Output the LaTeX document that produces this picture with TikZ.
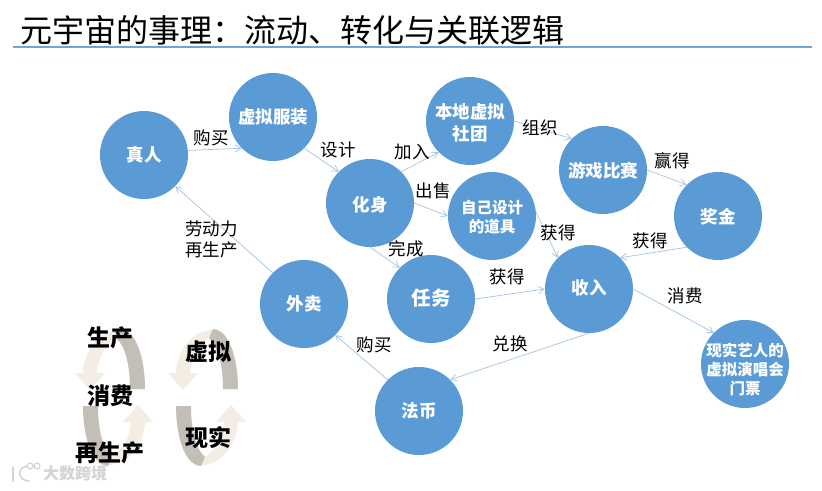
\documentclass[tikz,border=0pt]{standalone}
\usepackage{fontspec}
\setmainfont{Noto Sans CJK SC}
\usetikzlibrary{arrows.meta}
\definecolor{nodeblue}{HTML}{5B9BD5}
\definecolor{rulecol}{HTML}{6FA5DA}
\definecolor{linkblue}{HTML}{A3C4E4}
\definecolor{bandgray}{HTML}{C4BFB6}
\definecolor{bandcream}{HTML}{F4EDE3}
\definecolor{wmgray}{HTML}{D4D4D4}
\newcommand{\fs}[2]{\fontsize{#1}{#2}\selectfont}
\newcommand{\tx}[2]{\raisebox{\dimexpr-#1pt-6.5pt\relax}[0pt][0pt]{\makebox[0pt]{\begin{tabular}{@{}c@{}}#2\end{tabular}}}}
\newcommand{\halfcycle}{%
  \fill[bandcream] (120,330) .. controls (100,330) and (84,350) .. (83,373) -- (75,373) -- (90,390) -- (105,373) -- (97,373) .. controls (98,358) and (105,345) .. (116,338) -- cycle;
  \fill[bandgray] (120,329) .. controls (137,330) and (145,360) .. (145,389) -- (130,389) .. controls (130,365) and (125,345) .. (116,338) -- cycle;
}
\newcommand{\fullcycle}{%
  \halfcycle
  \begin{scope}[rotate around={180:(114,397.5)}]\halfcycle\end{scope}
}
\tikzset{
  bub/.style={circle,fill=nodeblue,text=white,minimum size=88pt,inner sep=0pt,font=\fs{17.5}{22}\bfseries},
  link/.style={draw=linkblue,line width=0.7pt,-{Straight Barb[length=6pt,width=7pt]}},
  lab/.style={text=black,inner sep=0pt,font=\fs{17.5}{21}},
  cyc/.style={text=black,inner sep=0pt,font=\fs{23}{26}\bfseries}
}
\begin{document}
\begin{tikzpicture}[x=1pt,y=-1pt]
\useasboundingbox (0,0) rectangle (822,490);
\fill[white] (0,0) rectangle (822,490);
% title
\node[inner sep=0pt,anchor=west,font=\fs{32}{36}] (title) at (20,30) {元宇宙的事理：流动、转化与关联逻辑};
\coordinate (ruleL) at (13,47); \coordinate (ruleR) at (812,47);
\draw[rulecol,line width=1.4pt] (ruleL) -- (ruleR);
% nodes
\node[bub] (zr) at (144,155) {\tx{0}{真人}};
\node[bub] (xnfz) at (273,117) {\tx{0}{虚拟服装}};
\node[bub] (hs) at (370,203) {\tx{2}{化身}};
\node[bub] (bd) at (470,121) {\tx{2}{本地虚拟\\社团}};
\node[bub] (yx) at (603,170) {\tx{1}{游戏比赛}};
\node[bub,font=\fs{15.5}{19}\bfseries] (dj) at (492,216) {\tx{0.5}{自己设计\\的道具}};
\node[bub] (jj) at (718,216) {\tx{1}{奖金}};
\node[bub] (sr) at (589,289) {\tx{-1}{收入}};
\node[bub,font=\fs{19.5}{22}\bfseries] (rw) at (431,299) {\tx{0}{任务}};
\node[bub] (wm) at (304,304) {\tx{0}{外卖}};
\node[bub] (fb) at (419,411) {\tx{0}{法币}};
\node[bub,font=\fs{15.5}{19}\bfseries] (yr) at (745,364) {\tx{5}{现实艺人的\\虚拟演唱会\\门票}};
% connectors
\draw[link] (zr.6) -- (xnfz.225);
\draw[link] (xnfz.-45) -- (hs.135);
\draw[link] (hs.45) -- (bd.225);
\draw[link] (hs.0) -- (dj.180);
\draw[link] (hs.-90) -- (rw.135);
\draw[link] (wm.135) -- (zr.-45);
\draw[link] (bd.0) -- (yx.135);
\draw[link] (yx.0) -- (jj.135);
\draw[link] (jj.225) -- (sr.45);
\draw[link] (dj.5) -- (sr.135);
\draw[link] (rw.0) -- (sr.180);
\draw[link] (sr.0) -- (yr.135);
\draw[link] (sr.-90) -- (fb.45);
\draw[link] (fb.135) -- (wm.-45);
% labels
\node[lab] (l1) at (211,138) {购买};
\node[lab] (l2) at (338,150) {设计};
\node[lab] (l3) at (412,152) {加入};
\node[lab] (l4) at (433,191) {出售};
\node[lab] (l5) at (406,249) {完成};
\node[lab] (l6) at (540,128) {组织};
\node[lab] (l7) at (672,161) {赢得};
\node[lab] (l8) at (558,233) {获得};
\node[lab] (l9) at (650,241) {获得};
\node[lab] (l10) at (507,277) {获得};
\node[lab] (l11) at (685,296) {消费};
\node[lab] (l12) at (510,344) {兑换};
\node[lab] (l13) at (374,345) {购买};
\node[lab,align=left,anchor=west] (l14) at (185,239) {劳动力\\再生产};
% cycles
\fullcycle
\begin{scope}[xshift=93pt]\fullcycle\end{scope}
% watermark
\draw[wmgray,line width=1.6pt,line cap=round] (13,467) -- (13,481);
\draw[wmgray,line width=1.6pt,line cap=round] (27,466) .. controls (17,468) and (17,480) .. (29,481);
\draw[wmgray,line width=1.2pt] (30,466) circle (3pt) (37,466) circle (3pt);
\node[inner sep=0pt,text=wmgray,font=\fs{16}{18}\bfseries] (wm1) at (75,473) {大数跨境};
\node[cyc] (c1) at (110,338) {生产};
\node[cyc] (c2) at (110,396) {消费};
\node[cyc] (c3) at (110,453) {再生产};
\node[cyc] (c4) at (208,352) {虚拟};
\node[cyc] (c5) at (208,438) {现实};
\end{tikzpicture}
\end{document}
